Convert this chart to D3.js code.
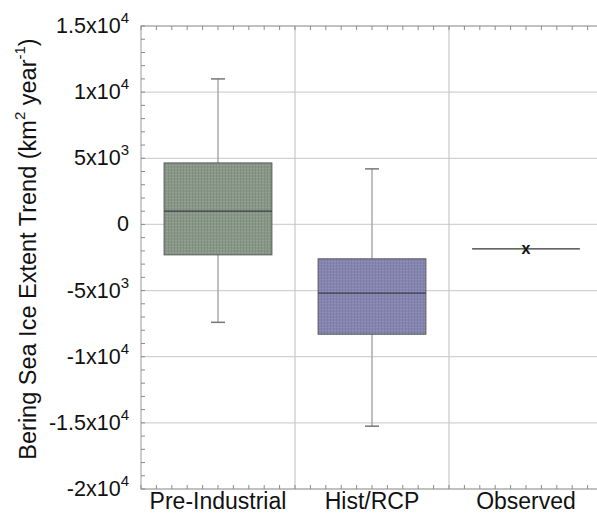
<!DOCTYPE html>
<html>
<head>
<meta charset="utf-8">
<script src="https://cdn.jsdelivr.net/npm/d3@7"></script>
<style>
  body { margin: 0; background: #fff; }
  svg { display: block; font-family: "Liberation Sans", Arial, Helvetica, sans-serif; }
</style>
</head>
<body>
<svg id="chart" width="597" height="517"></svg>
<script>
// data
const categories = ['Pre-Industrial', 'Hist/RCP', 'Observed'];
const whiskerLow = [-7400, -15250, null];
const q1 = [-2300, -8300, null];
const median = [1000, -5200, -1850];
const q3 = [4650, -2600, null];
const whiskerHigh = [11000, 4200, null];
const boxColors = ['#879686', '#8484ae', null];

const yTickValues = [15000, 10000, 5000, 0, -5000, -10000, -15000, -20000];
const yTickMantissa = ['1.5x10', '1x10', '5x10', '0', '-5x10', '-1x10', '-1.5x10', '-2x10'];
const yTickExponent = ['4', '4', '3', '', '3', '4', '4', '4'];

const svg = d3.select('#chart');
const plotL = 141, plotR = 603, plotT = 26, plotB = 489;

const x = d3.scaleLinear().domain([0.5, 3.5]).range([plotL, plotR]);
const y = d3.scaleLinear().domain([-20000, 15000]).range([plotB, plotT]);
const band = x(1.5) - x(0.5);
const boxW = band * 0.7;

// fill patterns (fine stipple like the original)
const defs = svg.append('defs');
boxColors.forEach((c, i) => {
    if (!c) return;
    const p = defs.append('pattern')
        .attr('id', 'pat' + i)
        .attr('width', 3).attr('height', 3)
        .attr('patternUnits', 'userSpaceOnUse');
    p.append('rect').attr('width', 3).attr('height', 3).attr('fill', c);
    p.append('rect').attr('width', 3).attr('height', 1).attr('fill', d3.color(c).brighter(0.25));
    p.append('rect').attr('width', 1).attr('height', 3).attr('fill', d3.color(c).darker(0.15));
});

// horizontal grid
svg.append('g')
    .selectAll('line')
    .data(yTickValues)
    .enter()
    .append('line')
    .attr('x1', plotL).attr('x2', plotR)
    .attr('y1', (d) => y(d)).attr('y2', (d) => y(d))
    .attr('stroke', '#d2d2d2')
    .attr('stroke-width', 1.2);

// vertical separators
svg.append('g')
    .selectAll('line')
    .data([1.5, 2.5])
    .enter()
    .append('line')
    .attr('x1', (d) => x(d)).attr('x2', (d) => x(d))
    .attr('y1', plotT).attr('y2', plotB)
    .attr('stroke', '#c8c8c8')
    .attr('stroke-width', 1.2);

// frame
svg.append('rect')
    .attr('x', plotL).attr('y', plotT)
    .attr('width', plotR - plotL).attr('height', plotB - plotT)
    .attr('fill', 'none')
    .attr('stroke', '#9a9a9a');

// minor ticks: left side every 1000, top/bottom 10 per category
const yMinor = d3.range(-20000, 15001, 1000);
svg.append('g')
    .selectAll('line')
    .data(yMinor)
    .enter()
    .append('line')
    .attr('x1', plotL).attr('x2', plotL + 4)
    .attr('y1', (d) => y(d)).attr('y2', (d) => y(d))
    .attr('stroke', '#8a8a8a');
const xMinor = d3.range(0.5, 3.51, 0.1);
['top', 'bottom'].forEach((side) => {
    const y0 = side === 'top' ? plotT : plotB;
    const dir = side === 'top' ? 1 : -1;
    svg.append('g')
        .selectAll('line')
        .data(xMinor)
        .enter()
        .append('line')
        .attr('x1', (d) => x(d)).attr('x2', (d) => x(d))
        .attr('y1', y0).attr('y2', y0 + dir * 4)
        .attr('stroke', '#8a8a8a');
});

// y tick labels
const yl = svg.append('g')
    .selectAll('text')
    .data(yTickValues)
    .enter()
    .append('text')
    .attr('x', 129)
    .attr('y', (d) => y(d) + 7)
    .attr('text-anchor', 'end')
    .attr('font-size', 21.5)
    .attr('fill', '#111');
yl.append('tspan').text((d, i) => yTickMantissa[i]);
yl.append('tspan')
    .attr('font-size', 15)
    .attr('dy', -10)
    .text((d, i) => yTickExponent[i]);

// y axis title
const title = svg.append('text')
    .attr('transform', 'translate(36, 249) rotate(-90)')
    .attr('text-anchor', 'middle')
    .attr('font-size', 23.5)
    .attr('fill', '#111');
title.append('tspan').text('Bering Sea Ice Extent Trend (km');
title.append('tspan').attr('font-size', 15).attr('dy', -11).text('2');
title.append('tspan').attr('dy', 11).text(' year');
title.append('tspan').attr('font-size', 15).attr('dy', -11).text('-1');
title.append('tspan').attr('dy', 11).text(')');

// category labels
svg.append('g')
    .selectAll('text')
    .data(categories)
    .enter()
    .append('text')
    .attr('x', (d, i) => x(i + 1))
    .attr('y', 509)
    .attr('text-anchor', 'middle')
    .attr('font-size', 23)
    .attr('fill', '#111')
    .text((d) => d);

// boxes
categories.forEach((c, i) => {
    const cx = x(i + 1);
    if (q1[i] === null) {
        // observed: single value, line with an x marker
        svg.append('line')
            .attr('x1', cx - boxW / 2).attr('x2', cx + boxW / 2)
            .attr('y1', y(median[i])).attr('y2', y(median[i]))
            .attr('stroke', '#333')
            .attr('stroke-width', 1.2);
        svg.append('text')
            .attr('x', cx)
            .attr('y', y(median[i]) + 5)
            .attr('text-anchor', 'middle')
            .attr('font-size', 16)
            .attr('font-weight', 'bold')
            .attr('fill', '#111')
            .text('x');
        return;
    }
    const g = svg.append('g');
    // whiskers
    g.append('line')
        .attr('x1', cx).attr('x2', cx)
        .attr('y1', y(whiskerHigh[i])).attr('y2', y(whiskerLow[i]))
        .attr('stroke', '#a8a8b0')
        .attr('stroke-width', 1.5);
    [whiskerHigh[i], whiskerLow[i]].forEach((v) => {
        g.append('line')
            .attr('x1', cx - 7).attr('x2', cx + 7)
            .attr('y1', y(v)).attr('y2', y(v))
            .attr('stroke', '#777')
            .attr('stroke-width', 1.5);
    });
    g.append('rect')
        .attr('x', cx - boxW / 2)
        .attr('y', y(q3[i]))
        .attr('width', boxW)
        .attr('height', y(q1[i]) - y(q3[i]))
        .attr('fill', 'url(#pat' + i + ')')
        .attr('stroke', '#5a5a5a');
    g.append('line')
        .attr('x1', cx - boxW / 2).attr('x2', cx + boxW / 2)
        .attr('y1', y(median[i])).attr('y2', y(median[i]))
        .attr('stroke', '#3c3c48')
        .attr('stroke-width', 1.2);
});
</script>
</body>
</html>
